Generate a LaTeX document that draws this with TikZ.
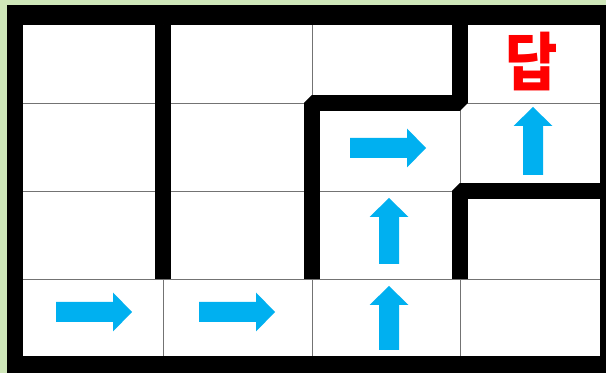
\documentclass[tikz,border=0pt]{standalone}
\usepackage{fontspec}
\newfontfamily\krfont{Noto Sans CJK KR}
\definecolor{bgreen}{RGB}{207,231,185}
\definecolor{arrblue}{RGB}{0,176,240}
\definecolor{ansred}{RGB}{255,0,0}

\begin{document}
\begin{tikzpicture}[x=0.03cm,y=-0.03cm,
    wall/.style={line width=0.48cm,line join=bevel},
    gridline/.style={black!55,line width=0.8pt},
    pics/blkarr/.style={code={
      \fill[arrblue] (-#1,-10) -- (#1-19,-10) -- (#1-19,-19.5) -- (#1,0)
        -- (#1-19,19.5) -- (#1-19,10) -- (-#1,10) -- cycle;}}]
  \useasboundingbox (0,0) rectangle (606,373);
  % background and frame
  \fill[bgreen] (0,0) rectangle (606,373);
  \fill[black] (7,5) rectangle (606,373);
  \fill[white] (23,25) rectangle (600,356);
  % cells
  \foreach \x in {163,312,460} \draw[gridline] (\x,25) -- (\x,356);
  \foreach \y in {103,191,279} \draw[gridline] (23,\y) -- (600,\y);
  % walls
  \draw[wall] (163,25) -- (163,279);
  \draw[wall] (312,279) -- (312,103) -- (460,103) -- (460,25);
  \draw[wall] (460,279) -- (460,191) -- (600,191);
  % path
  \pic at (94,312) {blkarr=38};
  \pic at (237,312) {blkarr=38};
  \pic[rotate=90] at (389,318) {blkarr=32};
  \pic[rotate=90] at (389,231) {blkarr=33};
  \pic at (388,148) {blkarr=38};
  \pic[rotate=90] at (533,141) {blkarr=34};
  % goal
  \node[font=\fontsize{54}{54}\selectfont\krfont\bfseries,text=ansred,
        xscale=0.9] (ans) at (532,62) {답};
\end{tikzpicture}
\end{document}
